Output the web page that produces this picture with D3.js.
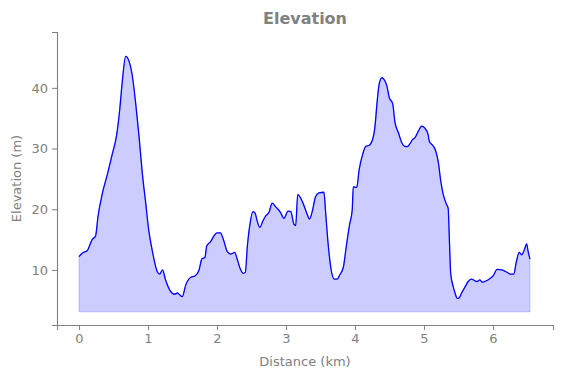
<!DOCTYPE html>
<html>
<head>
<meta charset="utf-8">
<script src="https://cdn.jsdelivr.net/npm/d3@7"></script>
<style>
  body { margin: 0; background: #fff; }
  text { font-family: "DejaVu Sans", sans-serif; }
</style>
</head>
<body>
<div id="chart-area"></div>
<script>
// distance along the route (km) and elevation (m)
let distanceKm = [0.00, 0.05, 0.12, 0.19, 0.24, 0.275, 0.34, 0.41, 0.48, 0.546, 0.59, 0.63, 0.676, 0.725, 0.77, 0.82, 0.87, 0.917, 0.967, 1.01,
  1.06, 1.135, 1.17, 1.21, 1.256, 1.32, 1.387, 1.425, 1.45, 1.497, 1.546, 1.62, 1.68, 1.74, 1.78, 1.826, 1.85, 1.91, 1.967, 2.0,
  2.05, 2.09, 2.15, 2.2, 2.257, 2.29, 2.34, 2.38, 2.41, 2.44, 2.48, 2.52, 2.55, 2.584, 2.62, 2.667, 2.706, 2.754, 2.80, 2.85,
  2.92, 2.97, 3.03, 3.07, 3.116, 3.14, 3.17, 3.236, 3.30, 3.34, 3.38, 3.43, 3.478, 3.55, 3.575, 3.61, 3.648, 3.70, 3.743, 3.78,
  3.83, 3.874, 3.92, 3.96, 3.975, 4.025, 4.06, 4.11, 4.16, 4.20, 4.255, 4.29, 4.32, 4.35, 4.39, 4.42, 4.46, 4.497, 4.546, 4.58,
  4.63, 4.677, 4.715, 4.758, 4.797, 4.836, 4.87, 4.92, 4.967, 5.01, 5.06, 5.077, 5.135, 5.17, 5.21, 5.24, 5.28, 5.33, 5.35, 5.37,
  5.387, 5.425, 5.45, 5.483, 5.51, 5.545, 5.59, 5.64, 5.69, 5.74, 5.77, 5.81, 5.845, 5.90, 5.957, 6.0, 6.06, 6.126, 6.19, 6.256,
  6.30, 6.34, 6.38, 6.416, 6.454, 6.488, 6.51, 6.536];
let elevationM = [12.2, 12.8, 13.2, 15.0, 15.6, 18.8, 22.7, 25.7, 29.0, 32.3, 36.4, 41.4, 45.2, 44.4, 42.2, 37.6, 32.0, 26.0, 21.0, 16.6,
  13.3, 9.7, 9.3, 10.0, 8.3, 6.6, 6.0, 6.2, 6.0, 5.6, 7.5, 8.8, 9.0, 10.0, 11.8, 12.1, 13.9, 14.7, 15.8, 16.1,
  16.1, 15.1, 13.0, 12.6, 12.9, 11.9, 10.1, 9.45, 9.6, 13.9, 17.7, 19.6, 19.4, 18.0, 17.0, 18.1, 18.9, 19.5, 21.0, 20.4,
  19.5, 18.5, 19.7, 19.6, 17.5, 17.3, 22.4, 21.3, 19.4, 18.4, 19.6, 22.1, 22.7, 22.8, 19.4, 14.4, 10.5, 8.5, 8.5, 9.2,
  10.4, 13.9, 17.4, 19.9, 23.7, 23.6, 26.5, 29.0, 30.4, 30.5, 31.5, 33.7, 37.6, 40.6, 41.7, 41.4, 40.4, 38.4, 37.4, 34.3,
  32.6, 31.0, 30.4, 30.3, 30.8, 31.5, 31.8, 32.9, 33.7, 33.4, 32.3, 31.2, 30.4, 29.6, 27.6, 24.9, 22.4, 20.7, 20.2, 14.4,
  9.45, 7.2, 6.2, 5.3, 5.4, 6.2, 7.1, 8.1, 8.5, 8.2, 8.1, 8.35, 8.0, 8.2, 8.6, 9.0, 10.1, 10.0, 9.7, 9.3,
  9.3, 11.4, 12.9, 12.5, 13.3, 14.3, 13.0, 11.8];
let baseElevation = 3.1;
let xTicks = [0, 1, 2, 3, 4, 5, 6];
let yTicks = [10, 20, 30, 40];

let data = distanceKm.map(function(d, i){ return {km: d, m: elevationM[i]}; });

let width = 562, height = 378;
let margin = {left: 57, right: 9, top: 32, bottom: 53};
let grey = "#808080";

let svg = d3.select("#chart-area")
            .append("svg")
            .attr("width", width)
            .attr("height", height);

let x = d3.scaleLinear()
          .domain([-0.319, 6.87])
          .range([margin.left, width - margin.right]);
let y = d3.scaleLinear()
          .domain([0.93, 49.2])
          .range([height - margin.bottom, margin.top]);

let area = d3.area()
             .x(function(d){ return x(d.km); })
             .y0(y(baseElevation))
             .y1(function(d){ return y(d.m); })
             .curve(d3.curveMonotoneX);
let line = d3.line()
             .x(function(d){ return x(d.km); })
             .y(function(d){ return y(d.m); })
             .curve(d3.curveMonotoneX);

svg.append("path")
   .datum(data)
   .attr("d", area)
   .attr("fill", "rgba(0,0,255,0.2)")
   .attr("stroke", "rgba(0,0,255,0.2)")
   .attr("stroke-width", 1);

svg.append("path")
   .datum(data)
   .attr("d", line)
   .attr("fill", "none")
   .attr("stroke", "blue")
   .attr("stroke-width", 1.3);

let xAxis = svg.append("g")
   .attr("transform", "translate(0," + (height - margin.bottom) + ")")
   .call(d3.axisBottom(x).tickValues(xTicks).tickFormat(d3.format("d")).tickSizeOuter(0).tickSize(5).tickPadding(4));
let yAxis = svg.append("g")
   .attr("transform", "translate(" + margin.left + ",0)")
   .call(d3.axisLeft(y).tickValues(yTicks).tickFormat(d3.format("d")).tickSizeOuter(0).tickSize(5).tickPadding(4));

[xAxis, yAxis].forEach(function(g){
  g.select(".domain").attr("stroke", grey).attr("stroke-width", 1.1);
  g.selectAll(".tick line").attr("stroke", grey);
  g.selectAll(".tick text").attr("fill", grey).style("font-size", "13px").style("font-family", "DejaVu Sans");
});

svg.append("text")
   .attr("x", (margin.left + width - margin.right) / 2)
   .attr("y", 366)
   .attr("text-anchor", "middle")
   .attr("fill", grey)
   .style("font-size", "13px")
   .text("Distance (km)");

svg.append("text")
   .attr("transform", "translate(21," + ((margin.top + height - margin.bottom) / 2) + ") rotate(-90)")
   .attr("text-anchor", "middle")
   .attr("fill", grey)
   .style("font-size", "13px")
   .text("Elevation (m)");

svg.append("text")
   .attr("x", (margin.left + width - margin.right) / 2)
   .attr("y", 24)
   .attr("text-anchor", "middle")
   .attr("fill", grey)
   .style("font-size", "16px")
   .style("font-weight", "bold")
   .text("Elevation");
</script>
</body>
</html>
